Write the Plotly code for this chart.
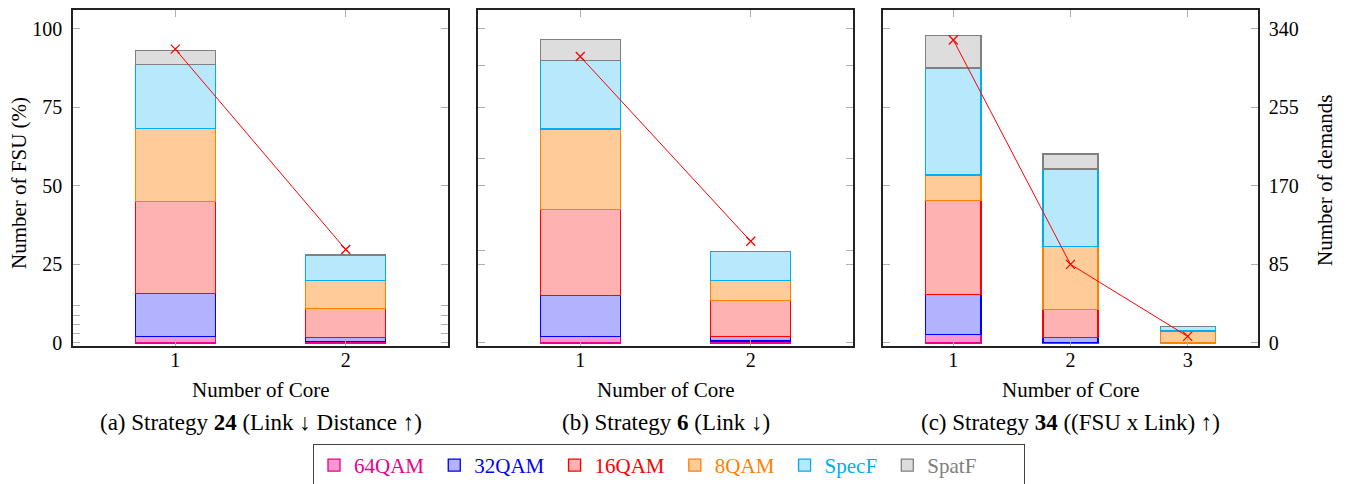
import plotly.graph_objects as go

# ---------------- data ----------------
series = ["64QAM", "32QAM", "16QAM", "8QAM", "SpecF", "SpatF"]

cores_a = [1, 2]
cores_b = [1, 2]
cores_c = [1, 2, 3]

# FSU share (%) per modulation / fragment type, stacked
a_64qam = [2.1, 0.5]
a_32qam = [13.6, 1.1]
a_16qam = [29.3, 9.4]
a_8qam = [23.2, 8.8]
a_specf = [20.5, 8.2]
a_spatf = [4.3, 0.0]

b_64qam = [2.0, 0.6]
b_32qam = [13.1, 1.5]
b_16qam = [27.4, 11.4]
b_8qam = [25.6, 6.4]
b_specf = [21.9, 9.1]
b_spatf = [6.7, 0.0]

c_64qam = [2.6, 0.2, 0.0]
c_32qam = [12.9, 1.6, 0.0]
c_16qam = [29.9, 8.8, 0.0]
c_8qam = [8.1, 20.1, 3.8]
c_specf = [34.0, 24.7, 1.5]
c_spatf = [10.3, 4.7, 0.0]

# number of demands (right axis)
a_demands = [318, 101]
b_demands = [310, 110]
c_demands = [328, 85, 7]

fsu_ticks = [0, 25, 50, 75, 100]
demand_ticks_a = [0, 10, 20, 30, 40]
demand_ticks_b = [0, 100, 200, 300]
demand_ticks_c = [0, 85, 170, 255, 340]

panel_titles = [
    "(a) Strategy <b>24</b> (Link ↓ Distance ↑)",
    "(b) Strategy <b>6</b> (Link ↓)",
    "(c) Strategy <b>34</b> ((FSU x Link) ↑)",
]

# ---------------- style ----------------
fills = ["rgba(236,0,140,0.4)", "rgba(0,0,255,0.3)", "rgba(255,0,0,0.3)",
         "rgba(255,128,0,0.4)", "rgba(0,174,239,0.28)", "rgba(128,128,128,0.27)"]
lines = ["#ec008c", "#0000ff", "#ff0000", "#ff8000", "#00aeef", "#808080"]
legend_pad = ["&nbsp;", "&nbsp;", "&nbsp;", "&nbsp;", "&nbsp;", "&nbsp;" * 8]

W, H = 1347, 484
FONT = "Liberation Serif"
doms = [(73, 448), (478, 853), (883, 1258)]
ytop, ybot = 10, 346
yr = [-1, 106]
scale = 3.4
yr2 = [yr[0] * scale, yr[1] * scale]

fig = go.Figure()

panels = [
    (cores_a, [a_64qam, a_32qam, a_16qam, a_8qam, a_specf, a_spatf], a_demands, [0.4, 2.6], demand_ticks_a),
    (cores_b, [b_64qam, b_32qam, b_16qam, b_8qam, b_specf, b_spatf], b_demands, [0.4, 2.6], demand_ticks_b),
    (cores_c, [c_64qam, c_32qam, c_16qam, c_8qam, c_specf, c_spatf], c_demands, [0.4, 3.6], demand_ticks_c),
]

for p, (cores, vals, dem, xr, dticks) in enumerate(panels):
    xa = "x" if p == 0 else f"x{p+1}"
    ya = f"y{2*p+1}" if p > 0 else "y"
    ya2 = f"y{2*p+2}"
    for i, s in enumerate(series):
        fig.add_trace(go.Bar(
            x=cores, y=vals[i], name=f'<span style="color:{lines[i]}">{s}</span>{legend_pad[i]}',
            marker=dict(color=fills[i], line=dict(color=lines[i], width=1.3)),
            width=0.47, xaxis=xa, yaxis=ya, showlegend=(p == 0), legendgroup=s,
        ))
    fig.add_trace(go.Scatter(
        x=cores, y=dem, mode="lines+markers", xaxis=xa, yaxis=ya2,
        line=dict(color="#ff0000", width=1),
        marker=dict(symbol="x-thin-open", size=9, line=dict(color="#ff0000", width=1.3)),
        showlegend=False,
    ))

    x0, x1 = doms[p]
    dom = [x0 / W, x1 / W]
    ydom = [1 - ybot / H, 1 - ytop / H]
    axis_common = dict(ticks="inside", ticklen=7, tickcolor="#b0b0b0", tickwidth=1,
                       showgrid=False, zeroline=False, showline=True,
                       linecolor="#222222", linewidth=1.5, mirror="ticks")
    fig.layout[f"xaxis{p+1 if p else ''}"] = dict(
        domain=dom, range=xr, anchor=ya, tickvals=cores, ticktext=[str(c) for c in cores],
        tickfont=dict(family=FONT, size=20, color="black"), ticklabelstandoff=-5, **axis_common)
    fig.layout[f"yaxis{2*p+1 if p else ''}"] = dict(
        domain=ydom, range=yr, anchor=xa, tickvals=fsu_ticks,
        showticklabels=(p == 0), tickfont=dict(family=FONT, size=20, color="black"),
        ticklabelstandoff=5, **axis_common)
    fig.layout[f"yaxis{2*p+2}"] = dict(
        range=yr2, overlaying=ya, anchor=xa, side="right", tickvals=dticks,
        showticklabels=(p == 2), tickfont=dict(family=FONT, size=20, color="black"),
        ticklabelstandoff=5, **axis_common)

    cx = (x0 + x1) / 2 / W
    fig.add_annotation(text="Number of Core", x=cx, y=1 - 390 / H, xref="paper", yref="paper",
                       xanchor="center", yanchor="middle", showarrow=False,
                       font=dict(family=FONT, size=21, color="black"))
    fig.add_annotation(text=panel_titles[p], x=cx, y=1 - 422 / H, xref="paper", yref="paper",
                       xanchor="center", yanchor="middle", showarrow=False,
                       font=dict(family=FONT, size=23, color="black"))

fig.add_annotation(text="Number of FSU (%)", x=19 / W, y=1 - 183 / H, xref="paper", yref="paper",
                   xanchor="center", yanchor="middle", textangle=-90, showarrow=False,
                   font=dict(family=FONT, size=21, color="black"))
fig.add_annotation(text="Number of demands", x=1325 / W, y=1 - 181 / H, xref="paper", yref="paper",
                   xanchor="center", yanchor="middle", textangle=-90, showarrow=False,
                   font=dict(family=FONT, size=21, color="black"))

fig.update_layout(
    width=W, height=H, margin=dict(l=0, r=0, t=0, b=0, autoexpand=False),
    paper_bgcolor="white", plot_bgcolor="white", barmode="stack",
    legend=dict(orientation="h", x=313 / W, y=1 - 444 / H, xanchor="left", yanchor="top",
                bordercolor="#444444", borderwidth=1, font=dict(family=FONT, size=21),
                traceorder="normal", itemwidth=30),
)

fig.write_html("out.html", config={"displayModeBar": False},
               post_script="document.body.style.margin='0';")
